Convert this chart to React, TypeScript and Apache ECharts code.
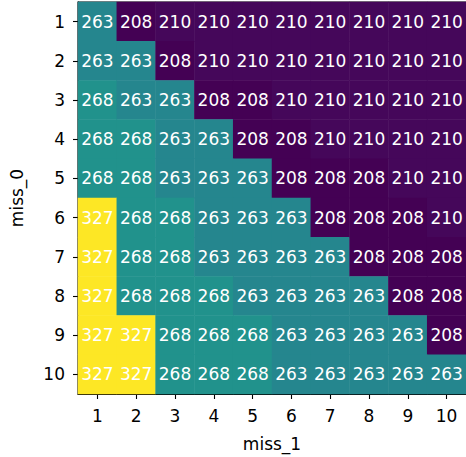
import React, { useEffect, useRef } from "react";
import * as echarts from "echarts";

const miss1Labels = ["1", "2", "3", "4", "5", "6", "7", "8", "9", "10"];
const miss0Labels = ["1", "2", "3", "4", "5", "6", "7", "8", "9", "10"];

const row1 = [263, 208, 210, 210, 210, 210, 210, 210, 210, 210];
const row2 = [263, 263, 208, 210, 210, 210, 210, 210, 210, 210];
const row3 = [268, 263, 263, 208, 208, 210, 210, 210, 210, 210];
const row4 = [268, 268, 263, 263, 208, 208, 210, 210, 210, 210];
const row5 = [268, 268, 263, 263, 263, 208, 208, 208, 210, 210];
const row6 = [327, 268, 268, 263, 263, 263, 208, 208, 208, 210];
const row7 = [327, 268, 268, 263, 263, 263, 263, 208, 208, 208];
const row8 = [327, 268, 268, 268, 263, 263, 263, 263, 208, 208];
const row9 = [327, 327, 268, 268, 268, 263, 263, 263, 263, 208];
const row10 = [327, 327, 268, 268, 268, 263, 263, 263, 263, 263];

const rows = [row1, row2, row3, row4, row5, row6, row7, row8, row9, row10];

const viridis = [
  "#440154", "#471365", "#482475", "#463480", "#414487", "#3b528b",
  "#355f8d", "#2f6c8e", "#2a788e", "#26828e", "#21918c", "#1f9e89",
  "#22a884", "#35b779", "#44bf70", "#6ece58", "#7ad151", "#b5de2b",
  "#bddf26", "#dfe318", "#fde725",
];

export default function App() {
  const ref = useRef<HTMLDivElement>(null);
  useEffect(() => {
    if (!ref.current) return;
    const chart = echarts.init(ref.current, undefined, { renderer: "svg" });
    const data: [number, number, number][] = [];
    rows.forEach((r, yi) => r.forEach((v, xi) => data.push([xi, yi, v])));
    const font = "DejaVu Sans";
    chart.setOption({
      animation: false,
      grid: {
        left: 74,
        top: 2,
        width: 395,
        height: 395,
        show: true,
        borderColor: "#000",
        borderWidth: 1.1,
        backgroundColor: "transparent",
      },
      visualMap: {
        show: false,
        min: 208,
        max: 327,
        dimension: 2,
        inRange: { color: viridis },
      },
      xAxis: {
        type: "category",
        data: miss1Labels,
        name: "miss_1",
        nameLocation: "middle",
        nameGap: 41,
        nameTextStyle: { fontFamily: font, fontSize: 17, color: "#000" },
        axisLine: { show: true, lineStyle: { color: "#000", width: 1.1 } },
        axisTick: { show: true, alignWithLabel: true, length: 5, lineStyle: { color: "#000", width: 1.1 } },
        axisLabel: { fontFamily: font, fontSize: 17, color: "#000", margin: 13 },
        splitLine: { show: false },
        splitArea: { show: false },
      },
      yAxis: {
        type: "category",
        data: miss0Labels,
        inverse: true,
        name: "miss_0",
        nameLocation: "middle",
        nameGap: 53,
        nameRotate: 90,
        nameTextStyle: { fontFamily: font, fontSize: 17, color: "#000" },
        axisLine: { show: true, lineStyle: { color: "#000", width: 1.1 } },
        axisTick: { show: true, alignWithLabel: true, length: 5, lineStyle: { color: "#000", width: 1.1 } },
        axisLabel: { fontFamily: font, fontSize: 17, color: "#000", margin: 13 },
        splitLine: { show: false },
        splitArea: { show: false },
      },
      series: [
        {
          type: "heatmap",
          data,
          label: {
            show: true,
            color: "#fff",
            fontFamily: font,
            fontSize: 17,
            formatter: (p: any) => String(Math.round(p.value[2])),
          },
          itemStyle: { borderWidth: 0 },
          emphasis: { disabled: true },
        },
      ],
    });
    return () => chart.dispose();
  }, []);
  return (
    <div
      ref={ref}
      style={{ position: "fixed", left: 0, top: 0, width: 466, height: 457, background: "#fff" }}
    />
  );
}
